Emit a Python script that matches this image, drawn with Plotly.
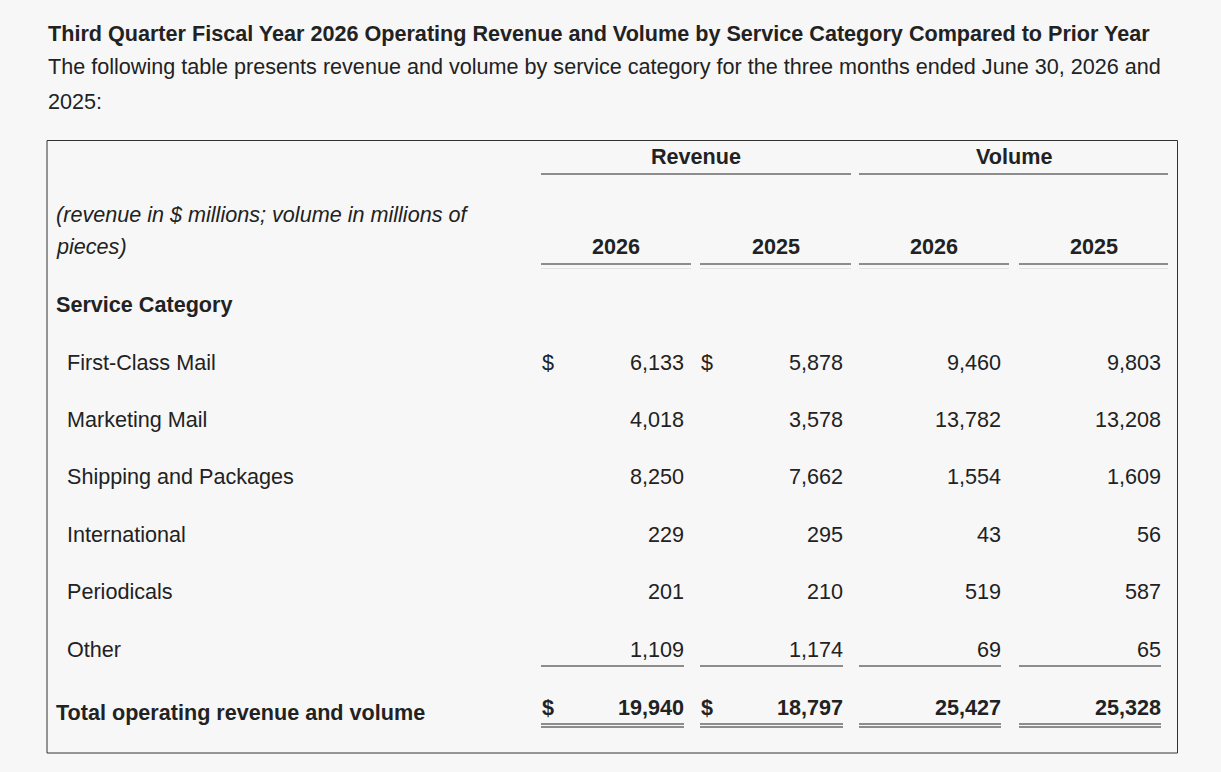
import plotly.graph_objects as go

# %%
# Data
title = ("Third Quarter Fiscal Year 2026 Operating Revenue and Volume by "
         "Service Category Compared to Prior Year")
subtitle = ["The following table presents revenue and volume by service "
            "category for the three months ended June 30, 2026 and",
            "2025:"]
unit_note = ["(revenue in $ millions; volume in millions of", "pieces)"]
groups = ["Revenue", "Volume"]
years = ["2026", "2025", "2026", "2025"]
categories = ["First-Class Mail", "Marketing Mail", "Shipping and Packages",
              "International", "Periodicals", "Other"]
rev_2026 = [6133, 4018, 8250, 229, 201, 1109]
rev_2025 = [5878, 3578, 7662, 295, 210, 1174]
vol_2026 = [9460, 13782, 1554, 43, 519, 69]
vol_2025 = [9803, 13208, 1609, 56, 587, 65]
total_label = "Total operating revenue and volume"

# %%
# Layout constants (page pixels)
W, H = 1221, 772
BG = "#f7f7f7"
INK = "#222222"
FONT = "Liberation Sans, Arial, sans-serif"
FS = 21.6

col_left = [541, 700, 859, 1019]     # cell left edges
col_right = [691, 851, 1009, 1168]   # cell right edges
num_right = [684, 843, 1001, 1161]   # right edge of numbers
dollar_x = [548, 707]
row_y0, row_dy = 362, 57.4
total_y = 707

fig = go.Figure()
# invisible trace so the axes exist
fig.add_trace(go.Scatter(x=[0, W], y=[0, H], mode="markers",
                         marker={"opacity": 0}, hoverinfo="skip",
                         showlegend=False))


def text(x, y, s, anchor="left", bold=False, italic=False, size=FS):
    if bold:
        s = "<b>" + s + "</b>"
    if italic:
        s = "<i>" + s + "</i>"
    fig.add_annotation(x=x, y=y, xref="x", yref="y", text=s,
                       showarrow=False, xanchor=anchor, yanchor="middle",
                       borderpad=0, borderwidth=0,
                       font={"family": FONT, "size": size, "color": INK})


def hline(x0, x1, y, color="#222222", width=1):
    fig.add_shape(type="line", x0=x0, x1=x1, y0=y, y1=y, xref="x", yref="y",
                  line={"color": color, "width": width})


# heading
text(48, 33, title, bold=True)
text(48, 66, subtitle[0])
text(48, 101, subtitle[1])

# table frame
fig.add_shape(type="rect", x0=47, x1=1177.5, y0=140.5, y1=753, xref="x",
              yref="y", line={"color": "#333333", "width": 1})

# group headers
for g, (a, b) in enumerate([(0, 1), (2, 3)]):
    text((col_left[a] + col_right[b]) / 2, 156, groups[g], anchor="center",
         bold=True)
    hline(col_left[a], col_right[b], 174)

# year headers
for i, yr in enumerate(years):
    text((col_left[i] + col_right[i]) / 2, 246, yr, anchor="center",
         bold=True)
    hline(col_left[i], col_right[i], 264)
    hline(col_left[i], col_right[i], 268.5, color="#e2e2e2")

text(56, 214, unit_note[0], italic=True)
text(56, 246, unit_note[1], italic=True)
text(56, 304, "Service Category", bold=True)

# body rows
series = [rev_2026, rev_2025, vol_2026, vol_2025]
for r, cat in enumerate(categories):
    y = row_y0 + r * row_dy
    text(67, y, cat)
    if r == 0:
        for dx in dollar_x:
            text(dx, y, "$", anchor="center")
    for c, vals in enumerate(series):
        text(num_right[c], y, f"{vals[r]:,}", anchor="right")

# rule under last row
last_y = row_y0 + (len(categories) - 1) * row_dy
for c in range(4):
    hline(col_left[c], num_right[c], last_y + 17)

# totals
text(56, total_y + 5, total_label, bold=True)
for dx in dollar_x:
    text(dx, total_y, "$", anchor="center", bold=True)
for c, vals in enumerate(series):
    text(num_right[c], total_y, f"{sum(vals):,}", anchor="right", bold=True)
    hline(col_left[c], num_right[c], total_y + 17)
    hline(col_left[c], num_right[c], total_y + 20)

fig.update_xaxes(range=[0, W], visible=False, fixedrange=True)
fig.update_yaxes(range=[H, 0], visible=False, fixedrange=True)
fig.update_layout(width=W, height=H, margin={"l": 0, "r": 0, "t": 0, "b": 0},
                  paper_bgcolor=BG, plot_bgcolor=BG, showlegend=False)

# page body margin off so the figure fills the window exactly
fig.write_html("out.html", config={"displayModeBar": False},
               post_script="document.body.style.margin='0';"
                           "document.body.style.background='#f7f7f7';"
                           "document.body.style.overflow='hidden';")
